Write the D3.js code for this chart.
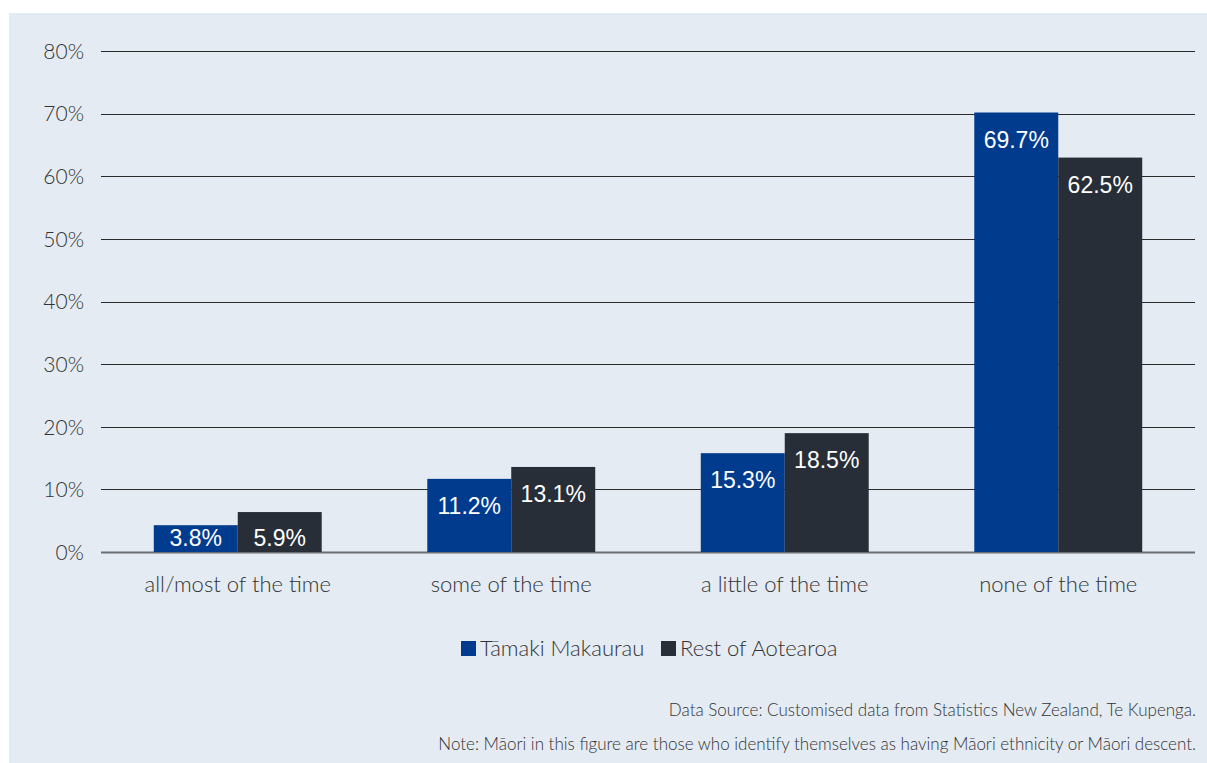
<!DOCTYPE html>
<html><head><meta charset="utf-8">
<script src="https://cdn.jsdelivr.net/npm/d3@7"></script>
<style>
html,body{margin:0;padding:0;background:#fff;}
svg{display:block;}
</style></head>
<body>
<svg id="chart" width="1207" height="763"></svg>
<script>
const categories = ["all/most of the time", "some of the time", "a little of the time", "none of the time"];
const seriesNames = ["Tāmaki Makaurau", "Rest of Aotearoa"];
const tamaki = [3.8, 11.2, 15.3, 69.7];
const rest = [5.9, 13.1, 18.5, 62.5];
const colors = ["#003b8e", "#272e38"];
const yTicks = [0, 10, 20, 30, 40, 50, 60, 70, 80];
const notes = ["Data Source: Customised data from Statistics New Zealand, Te Kupenga.",
  "Note: Māori in this figure are those who identify themselves as having Māori ethnicity or Māori descent."];

const svg = d3.select("#chart");
const lightFont = "Lato, 'Open Sans', sans-serif";

svg.append("rect").attr("x", 9).attr("y", 13).attr("width", 1198).attr("height", 750).attr("fill", "#e4ebf3");

const x0 = d3.scaleBand().domain(categories).range([101, 1195]).paddingInner(0.386).paddingOuter(0.193);
const x1 = d3.scaleBand().domain(seriesNames).range([0, x0.bandwidth()]);
const y = d3.scaleLinear().domain([0, 80]).range([552, 51]);

const yAxis = d3.axisLeft(y).tickValues(yTicks).tickFormat(d => d + "%").tickSize(0).tickPadding(0);
const gy = svg.append("g").attr("transform", "translate(84,0)").call(yAxis);
gy.select(".domain").remove();
gy.selectAll("text").attr("font-family", lightFont).attr("font-weight", 300).attr("font-size", 21).attr("fill", "#333").attr("dy", "0.35em");

svg.append("g").selectAll("line").data(yTicks).join("line")
  .attr("x1", 101).attr("x2", 1195)
  .attr("y1", d => Math.round(y(d)) + 0.5).attr("y2", d => Math.round(y(d)) + 0.5)
  .attr("stroke", d => d === 0 ? "#6b6e73" : "#2a2a2a").attr("stroke-width", d => d === 0 ? 2 : 1.2);

const data = categories.map((c, i) => ({cat: c, vals: [{s: seriesNames[0], v: tamaki[i], c: colors[0]}, {s: seriesNames[1], v: rest[i], c: colors[1]}]}));

const groups = svg.append("g").selectAll("g").data(data).join("g")
  .attr("transform", d => `translate(${x0(d.cat)},0)`);

groups.selectAll("rect").data(d => d.vals).join("rect")
  .attr("x", d => x1(d.s)).attr("width", x1.bandwidth())
  .attr("y", d => y(d.v) - 3).attr("height", d => y(0) - y(d.v) + 3)
  .attr("fill", d => d.c);

groups.selectAll("text").data(d => d.vals).join("text")
  .attr("x", d => x1(d.s) + x1.bandwidth() / 2)
  .attr("y", d => Math.min(y(d.v) + 24, y(0) - 14))
  .attr("dy", "0.35em")
  .attr("text-anchor", "middle")
  .attr("font-family", "'Liberation Sans', Arial, sans-serif")
  .attr("font-size", 23).attr("fill", "#fff")
  .text(d => d.v.toFixed(1) + "%");

const xAxis = d3.axisBottom(x0).tickSize(0).tickPadding(0);
const gx = svg.append("g").attr("transform", "translate(0,584)").call(xAxis);
gx.select(".domain").remove();
gx.selectAll("text").attr("font-family", lightFont).attr("font-weight", 300).attr("font-size", 22).attr("fill", "#333").attr("dy", "0.35em");

const legend = svg.append("g");
const legItems = [{name: seriesNames[0], c: colors[0], x: 461}, {name: seriesNames[1], c: colors[1], x: 661}];
legItems.forEach(it => {
  legend.append("rect").attr("x", it.x).attr("y", 641).attr("width", 15).attr("height", 15).attr("fill", it.c);
  legend.append("text").attr("x", it.x + 19).attr("y", 648.5).attr("dy", "0.35em")
    .attr("font-family", lightFont).attr("font-weight", 300).attr("font-size", 22).attr("fill", "#333").text(it.name);
});

svg.append("g").selectAll("text").data(notes).join("text")
  .attr("x", 1196).attr("y", (d, i) => 710 + i * 34).attr("dy", "0.35em")
  .attr("text-anchor", "end")
  .attr("font-family", lightFont).attr("font-weight", 300).attr("font-size", 17).attr("fill", "#333")
  .text(d => d);
</script>
</body></html>
